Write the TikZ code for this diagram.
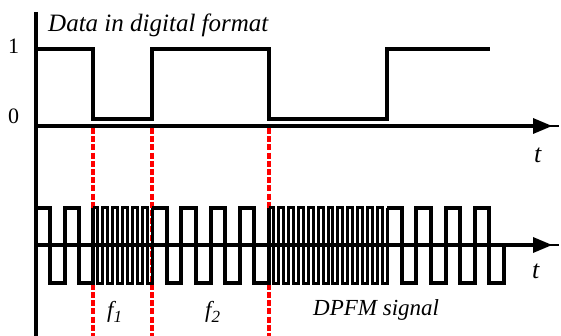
\documentclass[tikz,border=0pt]{standalone}
\usepackage{fontspec}
\setmainfont{Liberation Serif}
\begin{document}
\begin{tikzpicture}[x=1pt,y=-1pt,
  axisline/.style={line width=3.5pt},
  waveline/.style={line width=4.5pt,line join=miter},
  slowsig/.style={line width=4pt,line join=miter},
  fastsig/.style={line width=3pt,line join=miter},
  reddash/.style={red,line width=3.6pt,dash pattern=on 6pt off 2.2pt},
  lbl/.style={inner sep=0pt,anchor=base west}]
\useasboundingbox (0,0) rectangle (561,336);
% red dashed guides
\foreach \xx in {93,152,269} \draw[reddash] (\xx,128) -- (\xx,336);
% vertical axis
\draw[axisline] (36,12) -- (36,336);
% top axis with arrow
\draw[axisline] (36,126) -- (540,126);
\draw[line width=1.3pt] (540,126) -- (559,126);
\fill (533,118) -- (552,126) -- (533,134) -- cycle;
% bottom axis with arrow
\draw[axisline] (36,245) -- (540,245);
\draw[line width=1.3pt] (540,245) -- (559,245);
\fill (533,237) -- (552,245) -- (533,253) -- cycle;
% digital data
\draw[waveline] (38,49) -- (93,49) -- (93,119) -- (152,119) -- (152,49) -- (269,49)
  -- (269,119) -- (387,119) -- (387,49) -- (490,49);
% DPFM signal
\draw[slowsig] (36,245) -- (36,208)
  \foreach \i in {1,2} { -- ++(14.25,0) -- ++(0,75) -- ++(14.25,0) -- ++(0,-75) };
\draw[fastsig] (93,208)
  \foreach \i in {1,...,6} { -- ++(4.917,0) -- ++(0,75) -- ++(4.917,0) -- ++(0,-75) };
\draw[slowsig] (152,208)
  \foreach \i in {1,...,4} { -- ++(14.625,0) -- ++(0,75) -- ++(14.625,0) -- ++(0,-75) };
\draw[fastsig] (269,208)
  \foreach \i in {1,...,12} { -- ++(4.917,0) -- ++(0,75) -- ++(4.917,0) -- ++(0,-75) };
\draw[slowsig] (387,208)
  \foreach \i in {1,...,3} { -- ++(14.625,0) -- ++(0,75) -- ++(14.625,0) -- ++(0,-75) }
  -- ++(14.625,0) -- ++(0,75) -- ++(14.625,0) -- ++(0,-37.5);
% labels
\node[lbl,font=\fontsize{25}{28}\selectfont\itshape] (title) at (48,32) {Data in digital format};
\node[lbl,font=\fontsize{22}{26}\selectfont] (one) at (8,54) {1};
\node[lbl,font=\fontsize{22}{26}\selectfont] (zero) at (8,124) {0};
\node[lbl,font=\fontsize{26}{28}\selectfont\itshape] (t1) at (534,163) {t};
\node[lbl,font=\fontsize{26}{28}\selectfont\itshape] (t2) at (532,278) {t};
\node[lbl,font=\fontsize{23}{26}\selectfont\itshape] (f1) at (107,317) {f\raisebox{-0.22em}{\fontsize{17}{20}\selectfont 1}};
\node[lbl,font=\fontsize{23}{26}\selectfont\itshape] (f2) at (205,317) {f\raisebox{-0.22em}{\fontsize{17}{20}\selectfont 2}};
\node[lbl,font=\fontsize{23}{26}\selectfont\itshape] (dpfm) at (313,315) {DPFM signal};
\end{tikzpicture}
\end{document}
